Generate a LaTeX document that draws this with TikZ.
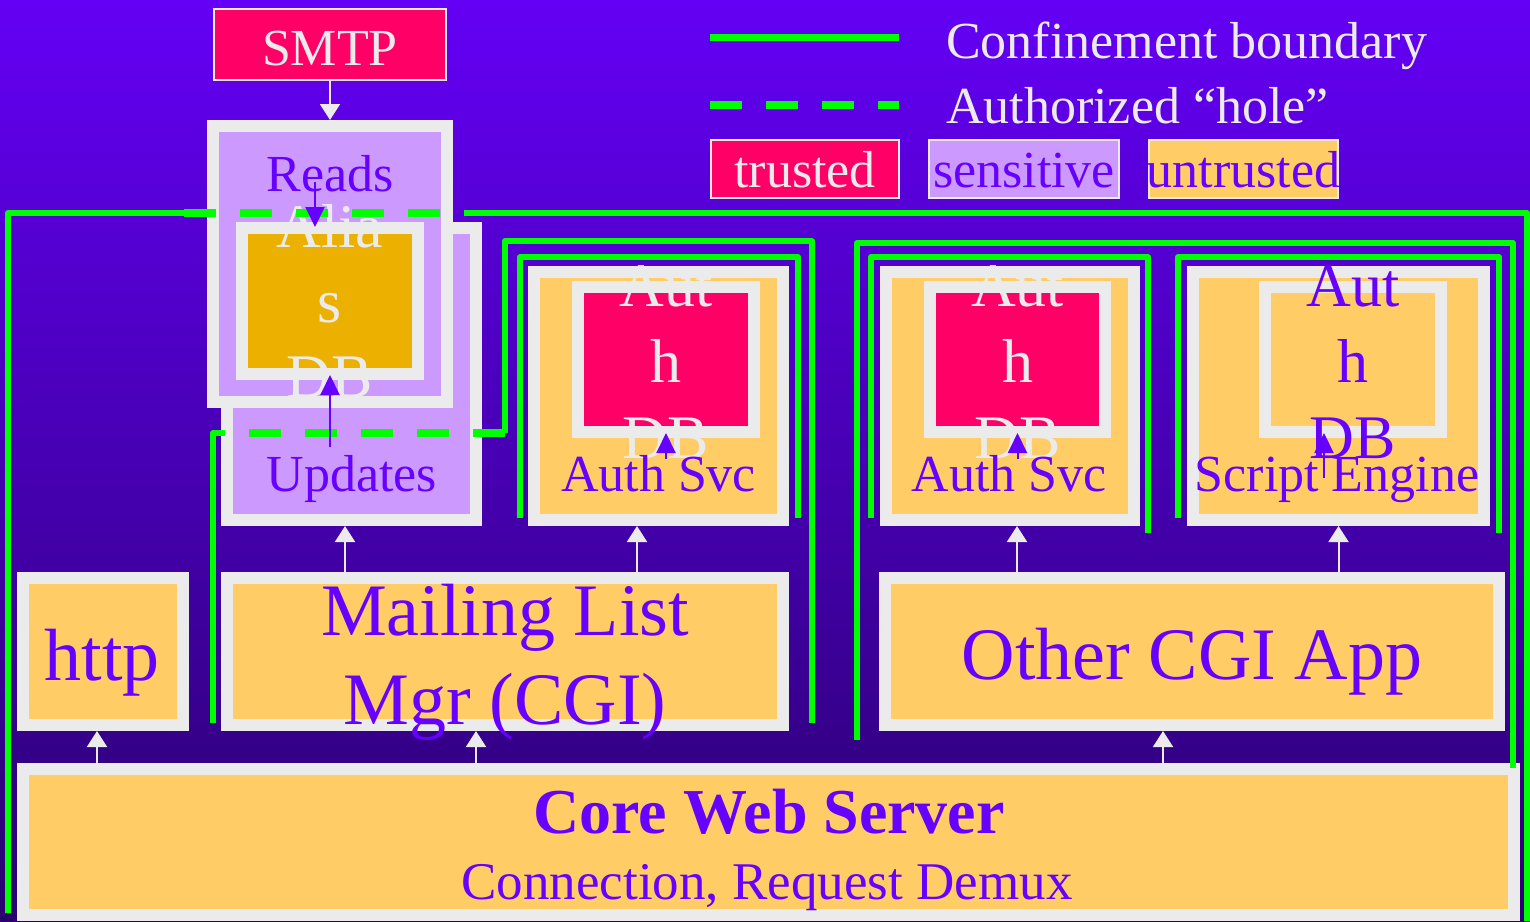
\documentclass[tikz,border=0pt]{standalone}
\usepackage{fontspec}
\setmainfont{Liberation Serif}
\usetikzlibrary{arrows.meta,calc}

\definecolor{ink}{HTML}{6600FF}
\definecolor{edge}{HTML}{EBEBEB}
\definecolor{trus}{HTML}{FF0066}
\definecolor{sens}{HTML}{CC99FF}
\definecolor{untr}{HTML}{FFCC66}
\definecolor{gold}{HTML}{EBB000}
\definecolor{grn}{HTML}{00FF00}
\definecolor{bgtop}{RGB}{100,0,245}
\definecolor{bgbot}{RGB}{42,0,112}

\tikzset{
  box/.style={draw=edge,line width=12pt,inner sep=0pt,outer sep=6pt},
  untrusted/.style={box,fill=untr},
  sensitive/.style={box,fill=sens},
  trusted/.style={box,fill=trus},
  store/.style={box,fill=gold},
  legendbox/.style={draw=edge,line width=2pt,inner sep=0pt,outer sep=1pt},
  lbl/.style={inner sep=0pt,anchor=base,text=ink,font=\fontsize{52}{62}\selectfont},
  big/.style={lbl,font=\fontsize{74}{89}\selectfont},
  dbl/.style={lbl,font=\fontsize{62}{75}\selectfont},
  flow/.style={draw=edge,line width=2pt,-{Triangle[width=20pt,length=16pt]}},
  pflow/.style={draw=ink,line width=2pt,-{Triangle[width=19pt,length=20pt]}},
  bound/.style={draw=grn,line width=6pt,line join=round},
  hole/.style={draw=grn,line width=8pt,dash pattern=on 32pt off 24pt}
}

\begin{document}
\begin{tikzpicture}[x=1pt,y=-1pt]
  \shade[top color=bgtop,bottom color=bgbot] (0,0) rectangle (1530,921);
  \useasboundingbox (0,0) rectangle (1530,921);

  % legend
  \coordinate (solidA) at (710,37);
  \coordinate (solidB) at (899,37);
  \coordinate (dashA) at (710,105);
  \coordinate (dashB) at (899,105);
  \draw[bound,line width=7pt] (solidA) -- (solidB);
  \draw[hole] (dashA) -- (dashB);
  \node[lbl,anchor=base west,text=edge] (confT) at (946,58) {Confinement boundary};
  \node[lbl,anchor=base west,text=edge] (holeT) at (946,123) {Authorized “hole”};
  \node[legendbox,fill=trus,minimum width=188pt,minimum height=58pt] (keyTrus) at (805,169) {};
  \node[legendbox,fill=sens,minimum width=190pt,minimum height=58pt] (keySens) at (1024,169) {};
  \node[legendbox,fill=untr,minimum width=189pt,minimum height=58pt] (keyUntr) at (1243.5,169) {};
  \node[lbl,text=edge] (keyTrusT) at (805,187) {trusted};
  \node[lbl] (keySensT) at (1024,187) {sensitive};
  \node[lbl] (keyUntrT) at (1243.5,187) {untrusted};

  % boxes
  \node[legendbox,fill=trus,minimum width=232pt,minimum height=71pt] (smtp) at (330,44.5) {};
  \node[sensitive,minimum width=249pt,minimum height=292pt] (updates) at (351.5,374) {};
  \node[sensitive,minimum width=234pt,minimum height=276pt] (reads) at (330,264) {};
  \node[store,minimum width=176pt,minimum height=146pt] (aliasdb) at (330,301) {};
  \node[untrusted,minimum width=249pt,minimum height=248pt] (svcA) at (658.5,396) {};
  \node[trusted,minimum width=176pt,minimum height=145pt] (dbA) at (666,359.5) {};
  \node[untrusted,minimum width=248pt,minimum height=248pt] (svcB) at (1010,396) {};
  \node[trusted,minimum width=175pt,minimum height=145pt] (dbB) at (1017.5,359.5) {};
  \node[untrusted,minimum width=291pt,minimum height=248pt] (script) at (1338.5,396) {};
  \node[untrusted,minimum width=176pt,minimum height=145pt] (dbC) at (1353,359.5) {};
  \node[untrusted,minimum width=160pt,minimum height=147pt] (http) at (103,651.5) {};
  \node[untrusted,minimum width=556pt,minimum height=147pt] (mailing) at (505,651.5) {};
  \node[untrusted,minimum width=614pt,minimum height=147pt] (othercgi) at (1192,651.5) {};
  \node[untrusted,minimum width=1491pt,minimum height=146pt] (core) at (768.5,842) {};

  % labels
  \node[lbl,text=edge] (smtpT) at (330,65) {SMTP};
  \node[lbl] (readsT) at (330,191) {Reads};
  \node[lbl] (updatesT) at (352,491) {Updates};
  \node[dbl,text=edge] (aliasT1) at (330,247) {Alia};
  \node[dbl,text=edge] (aliasT2) at (330,322) {s};
  \node[dbl,text=edge] (aliasT3) at (330,397) {DB};
  \foreach \n/\x/\c in {dbA/666/edge,dbB/1017.5/edge,dbC/1353/ink} {
    \node[dbl,text=\c] (\n T1) at (\x,306) {Aut};
    \node[dbl,text=\c] (\n T2) at (\x,382) {h};
    \node[dbl,text=\c] (\n T3) at (\x,458) {DB};
  }
  \node[lbl] (svcAT) at (658.5,491) {Auth Svc};
  \node[lbl] (svcBT) at (1009,491) {Auth Svc};
  \node[lbl] (scriptT) at (1337,491) {Script Engine};
  \node[big] (httpT) at (102,680) {http};
  \node[big] (mailT1) at (505,635) {Mailing List};
  \node[big] (mailT2) at (505,724) {Mgr (CGI)};
  \node[big] (otherT) at (1192,679) {Other CGI App};
  \node[lbl,font=\fontsize{64}{77}\selectfont\bfseries] (coreT) at (769,833) {Core Web Server};
  \node[lbl,font=\fontsize{53}{64}\selectfont] (demuxT) at (767,899) {Connection, Request Demux};

  % confinement boundaries
  \draw[bound] (184,213) -- (8,213) -- (8,913);
  \draw[hole] (184,213) -- (464,213);
  \draw[bound] (464,213) -- (1527,213) -- (1527,921);
  \draw[bound] (225,433) -- (213,433) -- (213,723);
  \draw[hole] (249,433) -- (505,433);
  \draw[bound] (505,433) -- (505,241) -- (812,241) -- (812,723);
  \draw[bound] (520,518) -- (520,257) -- (798,257) -- (798,518);
  \draw[bound] (857,740) -- (857,243) -- (1513,243) -- (1513,768);
  \draw[bound] (871,518) -- (871,257) -- (1148,257) -- (1148,533);
  \draw[bound] (1178,518) -- (1178,257) -- (1499,257) -- (1499,533);

  % calls
  \draw[flow] (smtp.south) -- (reads.north);
  \foreach \from/\to/\dx in {core/http/-6,core/mailing/-29,mailing/updates/-6.5,mailing/svcA/-21.5,core/othercgi/-29,othercgi/svcB/7,othercgi/script/0}
    \draw[flow] ($(\to.south |- \from.north)+(\dx,0)$) -- ($(\to.south)+(\dx,0)$);

  \draw[pflow] ($(readsT.base)+(-15,-9)$) -- ($(aliasdb.north)+(-15,5)$);
  \draw[pflow] ($(updatesT.north -| aliasdb.south)+(0,-7.5)$) -- ($(aliasdb.south)+(0,-5)$);
  \draw[pflow] ($(svcAT.north -| dbA.south)+(0,4.5)$) -- ($(dbA.south)+(0,-5)$);
  \draw[pflow] ($(svcBT.north -| dbB.south)+(0,4.5)$) -- ($(dbB.south)+(0,-5)$);
  \draw[pflow] ($(scriptT.north -| dbC.south)+(-29,21.5)$) -- ($(dbC.south)+(-29,-5)$);
\end{tikzpicture}
\end{document}
